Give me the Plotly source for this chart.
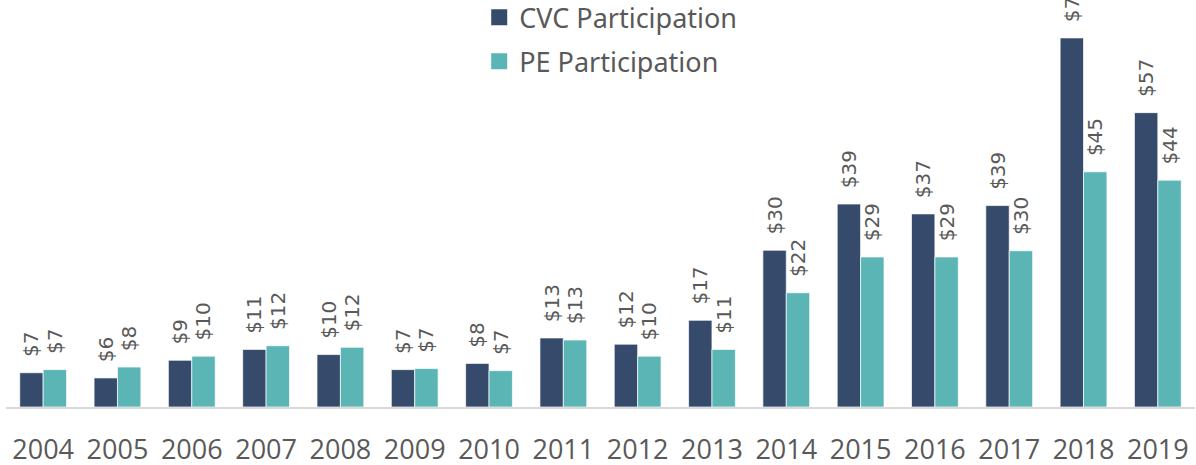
import plotly.graph_objects as go

years = ["2004", "2005", "2006", "2007", "2008", "2009", "2010", "2011",
         "2012", "2013", "2014", "2015", "2016", "2017", "2018", "2019"]
# deal value ($B); labels show whole dollars
cvc = [6.6, 5.6, 9.0, 11.1, 10.1, 7.2, 8.4, 13.3, 12.1, 16.7, 30.2, 39.1, 37.2, 38.8, 71.1, 56.7]
pe = [7.2, 7.7, 9.8, 11.8, 11.5, 7.4, 7.0, 12.9, 9.8, 11.1, 22.0, 28.9, 28.9, 30.1, 45.3, 43.7]

CVC_COLOR = "#364A6B"
PE_COLOR = "#5BB5B5"
GREY = "#595959"

fig = go.Figure()
for name, vals, color in [("CVC Participation", cvc, CVC_COLOR),
                          ("PE Participation", pe, PE_COLOR)]:
    fig.add_trace(go.Bar(
        x=years, y=vals, name=name, showlegend=False,
        marker=dict(color=color, line=dict(color="rgba(255,255,255,0.7)", width=1)),
        texttemplate="\u00a0\u00a0$%{y:.0f}",
        textposition="outside", textangle=-90, constraintext="none",
        textfont=dict(family="DejaVu Sans", size=20, color=GREY),
        cliponaxis=False, hoverinfo="skip",
    ))

for i, (name, color) in enumerate([("CVC Participation", CVC_COLOR),
                                   ("PE Participation", PE_COLOR)]):
    fig.add_trace(go.Scatter(
        x=[None], y=[None], mode="markers", name=name,
        marker=dict(symbol="square", size=18, color=color),
        legendgroup=f"g{i}", showlegend=True,
    ))

fig.update_layout(
    width=1196, height=465,
    margin=dict(l=6, r=1, t=0, b=58, autoexpand=False),
    paper_bgcolor="white", plot_bgcolor="white",
    barmode="group", bargap=0.37, bargroupgap=0,
    legend=dict(x=0.398, y=1.017, xanchor="left", yanchor="top",
                font=dict(family="Noto Sans", size=27, color=GREY),
                traceorder="grouped", tracegroupgap=6,
                bgcolor="rgba(0,0,0,0)", itemsizing="trace"),
    xaxis=dict(showgrid=False, showline=True, linecolor="#D9D9D9", linewidth=2,
               ticks="outside", ticklen=18, tickcolor="rgba(0,0,0,0)",
               automargin=False,
               tickfont=dict(family="Open Sans", size=27, color=GREY)),
    yaxis=dict(visible=False, range=[0, 78.4], showgrid=False),
    showlegend=True,
)

fig.write_html("out.html", config={"displayModeBar": False},
               post_script="document.body.style.margin='0';")
